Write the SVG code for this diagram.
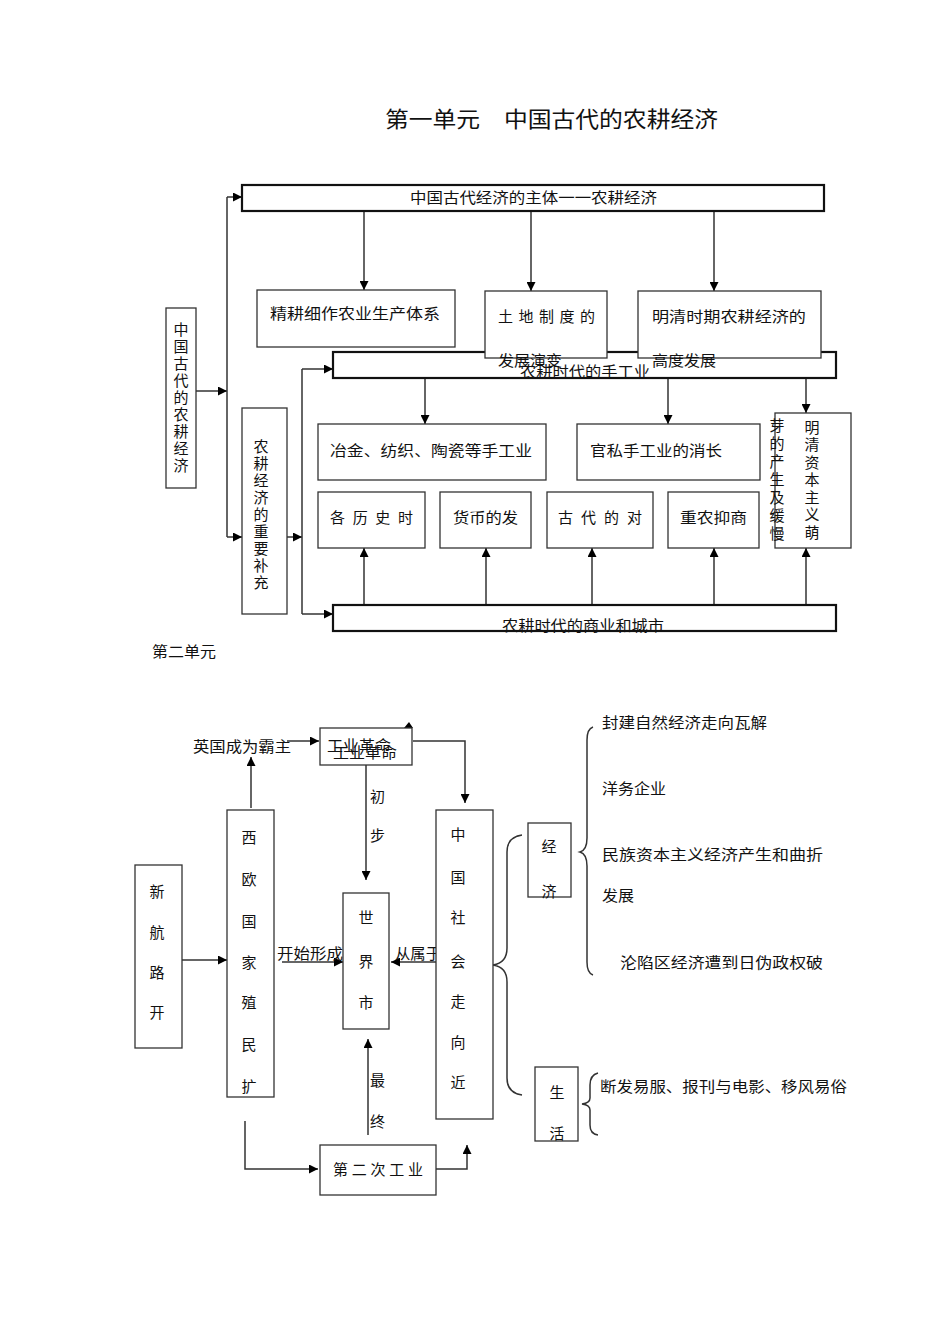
<svg xmlns="http://www.w3.org/2000/svg" width="945" height="1337" viewBox="0 0 945 1337">
<style>
.b{fill:#fff;stroke:#333;stroke-width:1.3}
.bt{fill:#fff;stroke:#111;stroke-width:2.2}
.t{font-family:"Noto Sans CJK SC","Noto Sans CJK TC",sans-serif;font-size:15px;fill:#111}
.c{fill:none;stroke:#333;stroke-width:1.5}
.ar{marker-end:url(#a)}
</style>
<defs>
<marker id="a" viewBox="0 0 10 10" refX="10" refY="5" markerWidth="9" markerHeight="9" markerUnits="userSpaceOnUse" orient="auto">
<path d="M0,0 L10,5 L0,10 z" fill="#000"/>
</marker>
</defs>
<rect width="945" height="1337" fill="#fff"/>
<text class="t" x="385" y="127" style="font-size:22px" textLength="333" lengthAdjust="spacingAndGlyphs">第一单元　中国古代的农耕经济</text>

<g id="connectors">
<path class="c ar" d="M196,391 H227"/>
<path class="c" d="M227,197 V537"/>
<path class="c ar" d="M227,197 H242"/>
<path class="c ar" d="M227,537 H242"/>
<path class="c ar" d="M287,537 H302"/>
<path class="c" d="M302,369 V614"/>
<path class="c ar" d="M302,369 H333"/>
<path class="c ar" d="M302,614 H333"/>
<path class="c ar" d="M364,211 V290"/>
<path class="c ar" d="M531,211 V291"/>
<path class="c ar" d="M714,211 V291"/>
<path class="c ar" d="M425,378 V424"/>
<path class="c ar" d="M668,378 V424"/>
<path class="c ar" d="M806,378 V413"/>
<path class="c ar" d="M364,605 V548"/>
<path class="c ar" d="M486,605 V548"/>
<path class="c ar" d="M592,605 V548"/>
<path class="c ar" d="M714,605 V548"/>
<path class="c ar" d="M806,605 V548"/>

<path class="c ar" d="M287,741 H319"/>
<path class="c ar" d="M251,808 V757"/>
<polygon points="404,728 409,722 413,728" fill="#000"/>
<path class="c ar" d="M413,741 H465 V803"/>
<path class="c ar" d="M366,765 V880"/>
<path class="c ar" d="M182,960 H227"/>
<path class="c ar" d="M282,962 H343"/>
<path class="c ar" d="M455,962 H391"/>
<path class="c ar" d="M368,1135 V1039"/>
<path class="c ar" d="M245,1121 V1169 H318"/>
<path class="c ar" d="M436,1169 H467 V1145"/>
<path class="c" d="M522,835 Q507,837 507,852 V948 Q507,963 493,965 Q507,967 507,982 V1078 Q507,1093 522,1095"/>
<path class="c" d="M593,727 Q587,729 587,740 V838 Q587,850 580,852 Q587,854 587,866 V962 Q587,973 593,975"/>
<path class="c" d="M598,1073 Q590,1075 590,1085 V1098 Q590,1103 582,1104 Q590,1105 590,1110 V1125 Q590,1134 598,1135"/>
</g>

<g id="n-top">
<rect class="bt" x="242" y="185" width="582" height="26"/>
<text class="t" x="410" y="203" textLength="247" lengthAdjust="spacingAndGlyphs">中国古代经济的主体一一农耕经济</text>
</g>
<g id="n-left">
<rect class="b" x="166" y="308" width="30" height="180"/>
<text class="t" text-anchor="middle"><tspan x="181" y="335">中</tspan><tspan x="181" y="352">国</tspan><tspan x="181" y="369">古</tspan><tspan x="181" y="386">代</tspan><tspan x="181" y="403">的</tspan><tspan x="181" y="420">农</tspan><tspan x="181" y="437">耕</tspan><tspan x="181" y="454">经</tspan><tspan x="181" y="471">济</tspan></text>
</g>
<g id="n-supp">
<rect class="b" x="242" y="408" width="45" height="206"/>
<text class="t" text-anchor="middle"><tspan x="261" y="452">农</tspan><tspan x="261" y="469">耕</tspan><tspan x="261" y="486">经</tspan><tspan x="261" y="503">济</tspan><tspan x="261" y="520">的</tspan><tspan x="261" y="537">重</tspan><tspan x="261" y="554">要</tspan><tspan x="261" y="571">补</tspan><tspan x="261" y="588">充</tspan></text>
</g>
<g id="n-handicraft">
<rect class="bt" x="333" y="352" width="503" height="26"/>
</g>
<g id="n-jinggeng">
<rect class="b" x="257" y="290" width="198" height="57"/>
<text class="t" x="270" y="319" textLength="170" lengthAdjust="spacingAndGlyphs">精耕细作农业生产体系</text>
</g>
<g id="n-land">
<rect class="b" x="485" y="291" width="122" height="67"/>
<text class="t" x="498" y="322" textLength="97" lengthAdjust="spacing">土地制度的</text>
<text class="t" x="498" y="366" textLength="64" lengthAdjust="spacingAndGlyphs">发展演变</text>
</g>
<g id="n-mingqing">
<rect class="b" x="638" y="291" width="183" height="67"/>
<text class="t" x="652" y="322" textLength="154" lengthAdjust="spacingAndGlyphs">明清时期农耕经济的</text>
<text class="t" x="652" y="366" textLength="64" lengthAdjust="spacingAndGlyphs">高度发展</text>
</g>
<text class="t" x="520" y="377" textLength="130" lengthAdjust="spacingAndGlyphs">农耕时代的手工业</text>
<g id="n-yejin">
<rect class="b" x="318" y="424" width="228" height="56"/>
<text class="t" x="330" y="456" textLength="202" lengthAdjust="spacingAndGlyphs">冶金、纺织、陶瓷等手工业</text>
</g>
<g id="n-guansi">
<rect class="b" x="577" y="424" width="183" height="56"/>
<text class="t" x="590" y="456" textLength="132" lengthAdjust="spacingAndGlyphs">官私手工业的消长</text>
</g>
<g id="n-capital">
<rect class="b" x="775" y="413" width="76" height="135"/>
<text class="t" text-anchor="middle"><tspan x="812" y="433">明</tspan><tspan x="812" y="450">清</tspan><tspan x="812" y="468">资</tspan><tspan x="812" y="485">本</tspan><tspan x="812" y="503">主</tspan><tspan x="812" y="520">义</tspan><tspan x="812" y="538">萌</tspan></text>
<text class="t" text-anchor="middle"><tspan x="777" y="431">芽</tspan><tspan x="777" y="449">的</tspan><tspan x="777" y="467">产</tspan><tspan x="777" y="485">生</tspan><tspan x="777" y="503">及</tspan><tspan x="777" y="521">缓</tspan><tspan x="777" y="539">慢</tspan></text>
</g>
<g id="n-gelishi">
<rect class="b" x="318" y="492" width="107" height="56"/>
<text class="t" x="330" y="523" textLength="83" lengthAdjust="spacing">各历史时</text>
</g>
<g id="n-huobi">
<rect class="b" x="440" y="492" width="91" height="56"/>
<text class="t" x="453" y="523" textLength="65" lengthAdjust="spacingAndGlyphs">货币的发</text>
</g>
<g id="n-gudai">
<rect class="b" x="547" y="492" width="106" height="56"/>
<text class="t" x="558" y="523" textLength="84" lengthAdjust="spacing">古代的对</text>
</g>
<g id="n-zhongnong">
<rect class="b" x="668" y="492" width="91" height="56"/>
<text class="t" x="680" y="523" textLength="67" lengthAdjust="spacingAndGlyphs">重农抑商</text>
</g>
<g id="n-commerce">
<rect class="bt" x="333" y="605" width="503" height="26"/>
<text class="t" x="502" y="631" textLength="162" lengthAdjust="spacingAndGlyphs">农耕时代的商业和城市</text>
</g>
<text class="t" x="152" y="657" textLength="64" lengthAdjust="spacingAndGlyphs">第二单元</text>

<g id="n-britain">
<text class="t" x="193" y="752" textLength="98" lengthAdjust="spacingAndGlyphs">英国成为霸主</text>
</g>
<g id="n-indrev">
<rect class="b" x="320" y="728" width="92" height="37"/>
<text class="t" x="327" y="751" textLength="64" lengthAdjust="spacingAndGlyphs">工业革命</text>
<text class="t" x="333" y="758" textLength="64" lengthAdjust="spacingAndGlyphs">工业革命</text>
</g>
<text class="t" x="370" y="802">初</text>
<text class="t" x="370" y="841">步</text>
<text class="t" x="370" y="1086">最</text>
<text class="t" x="370" y="1127">终</text>
<g id="n-route">
<rect class="b" x="135" y="865" width="47" height="183"/>
<text class="t" text-anchor="middle"><tspan x="157" y="897">新</tspan><tspan x="157" y="938">航</tspan><tspan x="157" y="978">路</tspan><tspan x="157" y="1018">开</tspan></text>
</g>
<g id="n-westeu">
<rect class="b" x="227" y="810" width="47" height="287"/>
<text class="t" text-anchor="middle"><tspan x="249" y="843">西</tspan><tspan x="249" y="885">欧</tspan><tspan x="249" y="927">国</tspan><tspan x="249" y="968">家</tspan><tspan x="249" y="1008">殖</tspan><tspan x="249" y="1050">民</tspan><tspan x="249" y="1092">扩</tspan></text>
</g>
<text class="t" x="277" y="959" textLength="66" lengthAdjust="spacingAndGlyphs">开始形成</text>
<g id="n-world">
<rect class="b" x="343" y="893" width="46" height="136"/>
<text class="t" text-anchor="middle"><tspan x="366" y="923">世</tspan><tspan x="366" y="967">界</tspan><tspan x="366" y="1008">市</tspan></text>
</g>
<text class="t" x="395" y="959" textLength="46" lengthAdjust="spacingAndGlyphs">从属于</text>
<g id="n-china">
<rect class="b" x="436" y="810" width="57" height="309"/>
<text class="t" text-anchor="middle"><tspan x="458" y="840">中</tspan><tspan x="458" y="883">国</tspan><tspan x="458" y="923">社</tspan><tspan x="458" y="967">会</tspan><tspan x="458" y="1007">走</tspan><tspan x="458" y="1048">向</tspan><tspan x="458" y="1088">近</tspan></text>
</g>
<g id="n-economy">
<rect class="b" x="528" y="823" width="43" height="74"/>
<text class="t" text-anchor="middle"><tspan x="549" y="852">经</tspan><tspan x="549" y="897">济</tspan></text>
</g>
<text class="t" x="602" y="728" textLength="165" lengthAdjust="spacingAndGlyphs">封建自然经济走向瓦解</text>
<text class="t" x="602" y="794" textLength="64" lengthAdjust="spacingAndGlyphs">洋务企业</text>
<text class="t" x="602" y="860" textLength="221" lengthAdjust="spacingAndGlyphs">民族资本主义经济产生和曲折</text>
<text class="t" x="602" y="901" textLength="32" lengthAdjust="spacingAndGlyphs">发展</text>
<text class="t" x="620" y="968" textLength="203" lengthAdjust="spacingAndGlyphs">沦陷区经济遭到日伪政权破</text>
<g id="n-life">
<rect class="b" x="535" y="1067" width="43" height="74"/>
<text class="t" text-anchor="middle"><tspan x="557" y="1098">生</tspan><tspan x="557" y="1139">活</tspan></text>
</g>
<text class="t" x="600" y="1092" textLength="247" lengthAdjust="spacingAndGlyphs">断发易服、报刊与电影、移风易俗</text>
<g id="n-second">
<rect class="b" x="320" y="1145" width="116" height="50"/>
<text class="t" x="333" y="1175" textLength="90" lengthAdjust="spacing">第二次工业</text>
</g>
</svg>
